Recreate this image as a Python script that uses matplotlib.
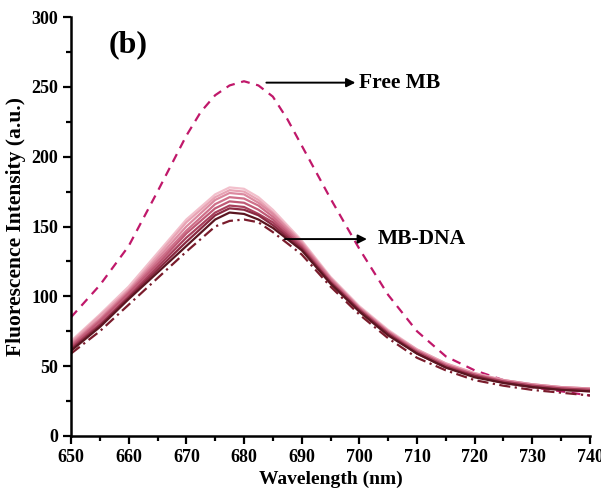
import matplotlib
matplotlib.use("Agg")
import matplotlib.pyplot as plt
from matplotlib.ticker import MultipleLocator

plt.rcParams['font.family'] = ['Liberation Serif', 'DejaVu Serif']
plt.rcParams['font.weight'] = 'bold'

# Free MB (dashed)
free_x = [650, 655, 660, 665, 670, 672.5, 675, 677.5, 680, 682.5, 685, 687.5, 690, 695, 700, 705, 710, 715, 720, 725, 730, 735, 740]
free_y = [85, 108, 136, 175, 215, 232, 244, 251, 254, 251, 243, 227, 208, 170, 134, 101, 75, 57, 47, 40, 35, 32, 29]

# MB-DNA curves
dna_x = [650, 655, 660, 665, 670, 675, 677.5, 680, 682.5, 685, 690, 695, 700, 705, 710, 715, 720, 725, 730, 735, 740]
dna_1 = [68, 87, 107, 131, 155, 173, 178, 177, 171, 162, 140, 114, 93, 76, 62, 52, 45, 40, 37, 35, 34]
dna_2 = [67, 86, 105, 129, 153, 171, 176, 175, 169, 160, 139, 113, 92, 75, 62, 52, 45, 40, 37, 35, 34]
dna_3 = [66, 84, 104, 127, 150, 169, 174, 173, 167, 159, 138, 113, 92, 75, 61, 51, 44, 40, 37, 35, 34]
dna_4 = [65, 83, 103, 125, 147, 166, 171, 170, 165, 157, 137, 112, 91, 74, 61, 51, 44, 39, 36, 34, 33]
dna_5 = [64, 82, 102, 123, 145, 163, 168, 167, 162, 155, 136, 111, 91, 74, 60, 50, 44, 39, 36, 34, 33]
dna_6 = [63, 80, 100, 121, 142, 160, 165, 164, 159, 153, 135, 110, 90, 73, 60, 50, 43, 39, 36, 34, 33]
dna_7 = [62, 79, 99, 119, 139, 158, 163, 162, 158, 151, 134, 110, 90, 73, 59, 49, 43, 38, 35, 33, 32]
dna_8 = [61, 78, 98, 117, 136, 155, 160, 159, 155, 149, 133, 109, 89, 72, 59, 49, 42, 38, 35, 33, 32]
dna_dd = [59, 75, 94, 113, 132, 150, 154, 155, 153, 146, 130, 107, 87, 70, 56, 47, 40, 36, 33, 31, 29]

dna_series = [dna_1, dna_2, dna_3, dna_4, dna_5, dna_6, dna_7, dna_8]
dna_colors = ['#f2c0cc', '#e8a3b4', '#dc8aa0', '#cf708a', '#c05a76', '#a8405c', '#8a2a42', '#5a1520']

fig = plt.figure(figsize=(6.01, 4.96), dpi=100)
ax = fig.add_axes([71/601, 1 - 436/496, (590-71)/601, (436-17)/496])

ax.plot(free_x, free_y, linestyle=(0, (4, 3)), color='#c0186a', lw=1.6)
for ys, c in zip(dna_series, dna_colors):
    ax.plot(dna_x, ys, color=c, lw=1.6)
ax.plot(dna_x, dna_dd, color='#7a1c2c', lw=1.6, linestyle=(0, (5, 2, 1, 2)))

ax.set_xlim(650, 740)
ax.set_ylim(0, 300)
ax.xaxis.set_major_locator(MultipleLocator(10))
ax.xaxis.set_minor_locator(MultipleLocator(5))
ax.yaxis.set_major_locator(MultipleLocator(50))
ax.yaxis.set_minor_locator(MultipleLocator(25))
ax.spines['top'].set_visible(False)
ax.spines['right'].set_visible(False)
for s in ['left', 'bottom']:
    ax.spines[s].set_linewidth(1.8)
ax.tick_params(which='major', direction='out', length=6, width=1.6, labelsize=13, pad=3)
ax.tick_params(which='minor', direction='out', length=3.5, width=1.6)

ax.set_xlabel('Wavelength (nm)', fontsize=14, fontweight='bold', labelpad=4)
ax.set_ylabel('Fluorescence Intensity (a.u.)', fontsize=15.5, fontweight='bold', labelpad=4)

ax.text(656.5, 280, '(b)', fontsize=23, fontweight='bold', ha='left', va='center')

ax.annotate('', xy=(699.8, 253), xytext=(683.4, 253),
            arrowprops=dict(arrowstyle='-|>', color='black', lw=1.4, mutation_scale=13))
ax.text(700.0, 253, 'Free MB', fontsize=15.5, fontweight='bold', va='center', ha='left')
ax.annotate('', xy=(701.8, 141), xytext=(686.6, 141),
            arrowprops=dict(arrowstyle='-|>', color='black', lw=1.4, mutation_scale=13))
ax.text(703.2, 141, 'MB-DNA', fontsize=15.5, fontweight='bold', va='center', ha='left')

fig.savefig('out.png', dpi=100)
